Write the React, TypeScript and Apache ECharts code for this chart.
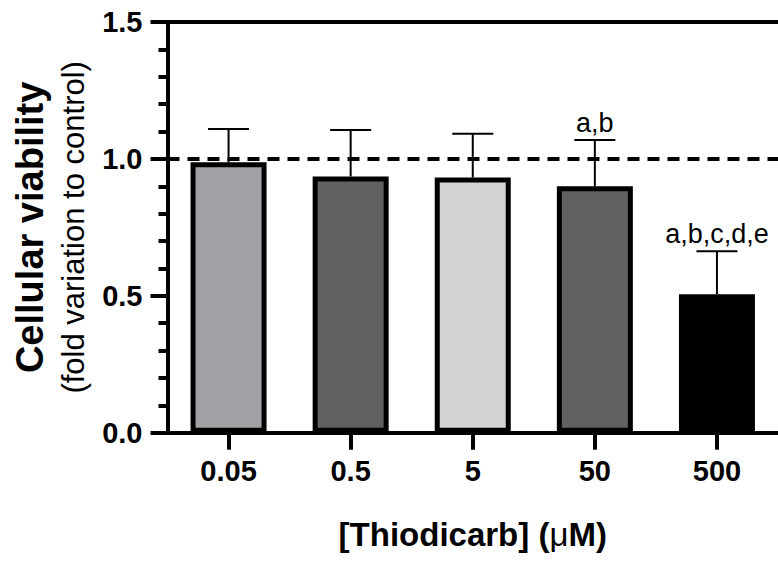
import { useEffect, useRef } from "react";
import * as echarts from "echarts";

const categories = ["0.05", "0.5", "5", "50", "500"];
const meanValues = [0.988, 0.936, 0.932, 0.9, 0.506];
const errorUpper = [1.109, 1.106, 1.092, 1.069, 0.663];
const barColors = ["#a2a1a6", "#616161", "#d3d3d3", "#616161", "#000000"];
const annotations = ["", "", "", "a,b", "a,b,c,d,e"];
const yMin = 0;
const yMax = 1.5;
const yInterval = 0.5;
const referenceLevel = 1.0;

const FONT = '"Liberation Sans", Arial, Helvetica, sans-serif';

export default function App() {
  const ref = useRef<HTMLDivElement>(null);
  useEffect(() => {
    if (!ref.current) return;
    const chart = echarts.init(ref.current, undefined, { renderer: "svg" });
    const option: any = {
      animation: false,
      backgroundColor: "#ffffff",
      grid: { left: 167.5, top: 22, width: 618, height: 410.7, containLabel: false },
      xAxis: [
        {
          type: "category",
          data: categories,
          position: "bottom",
          axisLine: { show: true, lineStyle: { color: "#000", width: 4 } },
          axisTick: { show: true, alignWithLabel: true, length: 17, lineStyle: { color: "#000", width: 4 } },
          axisLabel: { color: "#000", fontSize: 29, fontWeight: "bold", fontFamily: FONT, margin: 24 },
          splitLine: { show: false },
          name: "{b|[Thiodicarb] (}{m|μ}{b|M)}",
          nameLocation: "middle",
          nameGap: 85,
          nameTextStyle: {
            rich: {
              b: { fontSize: 33, fontWeight: "bold", fontFamily: FONT, color: "#000" },
              m: { fontSize: 33, fontWeight: "normal", fontFamily: FONT, color: "#000" },
            },
          },
        },
        {
          type: "category",
          data: categories,
          position: "top",
          axisLine: { show: true, lineStyle: { color: "#000", width: 4 } },
          axisTick: { show: false },
          axisLabel: { show: false },
          splitLine: { show: false },
        },
      ],
      yAxis: {
        type: "value",
        min: yMin,
        max: yMax,
        interval: yInterval,
        axisLine: { show: true, lineStyle: { color: "#000", width: 4 } },
        axisTick: { show: true, length: 17, lineStyle: { color: "#000", width: 4 } },
        minorTick: { show: true, splitNumber: 5, length: 9, lineStyle: { color: "#000", width: 4 } },
        splitLine: { show: false },
        minorSplitLine: { show: false },
        axisLabel: {
          color: "#000",
          fontSize: 29,
          fontWeight: "bold",
          fontFamily: FONT,
          margin: 25,
          formatter: (v: number) => v.toFixed(1),
        },
        name: "{a|Cellular viability}\n{b|(fold variation to control)}",
        nameLocation: "middle",
        nameRotate: 90,
        nameGap: 73,
        nameTextStyle: {
          rich: {
            a: { fontSize: 38, fontWeight: "bold", fontFamily: FONT, color: "#000", lineHeight: 46 },
            b: { fontSize: 31, fontWeight: "normal", fontFamily: FONT, color: "#000", lineHeight: 42 },
          },
        },
      },
      series: [
        {
          type: "bar",
          barWidth: 76,
          data: meanValues.map((v, i) => ({
            value: v,
            itemStyle: { color: barColors[i], borderColor: "#000", borderWidth: 5 },
          })),
          markLine: {
            silent: true,
            symbol: "none",
            label: { show: false },
            lineStyle: { color: "#000", width: 4, type: [12, 8] },
            data: [{ yAxis: referenceLevel }],
          },
          z: 2,
        },
        {
          type: "custom",
          z: 3,
          data: meanValues.map((m, i) => [i, m, errorUpper[i]]),
          renderItem: (params: any, api: any) => {
            const i = api.value(0);
            const base = api.coord([i, api.value(1)]);
            const top = api.coord([i, api.value(2)]);
            const half = 20.5;
            const children: any[] = [
              {
                type: "line",
                shape: { x1: base[0], y1: base[1], x2: top[0], y2: top[1] },
                style: { stroke: "#000", lineWidth: 2 },
              },
              {
                type: "line",
                shape: { x1: top[0] - half, y1: top[1], x2: top[0] + half, y2: top[1] },
                style: { stroke: "#000", lineWidth: 2 },
              },
            ];
            const label = annotations[params.dataIndex];
            if (label) {
              children.push({
                type: "text",
                x: top[0],
                y: top[1] - 4,
                style: {
                  text: label,
                  fill: "#000",
                  fontSize: 27,
                  fontFamily: FONT,
                  align: "center",
                  verticalAlign: "bottom",
                },
              });
            }
            return { type: "group", children };
          },
        },
      ],
    };
    chart.setOption(option);
    return () => chart.dispose();
  }, []);
  return (
    <div
      ref={ref}
      style={{ position: "fixed", left: 0, top: 0, width: 778, height: 561, background: "#fff" }}
    />
  );
}
